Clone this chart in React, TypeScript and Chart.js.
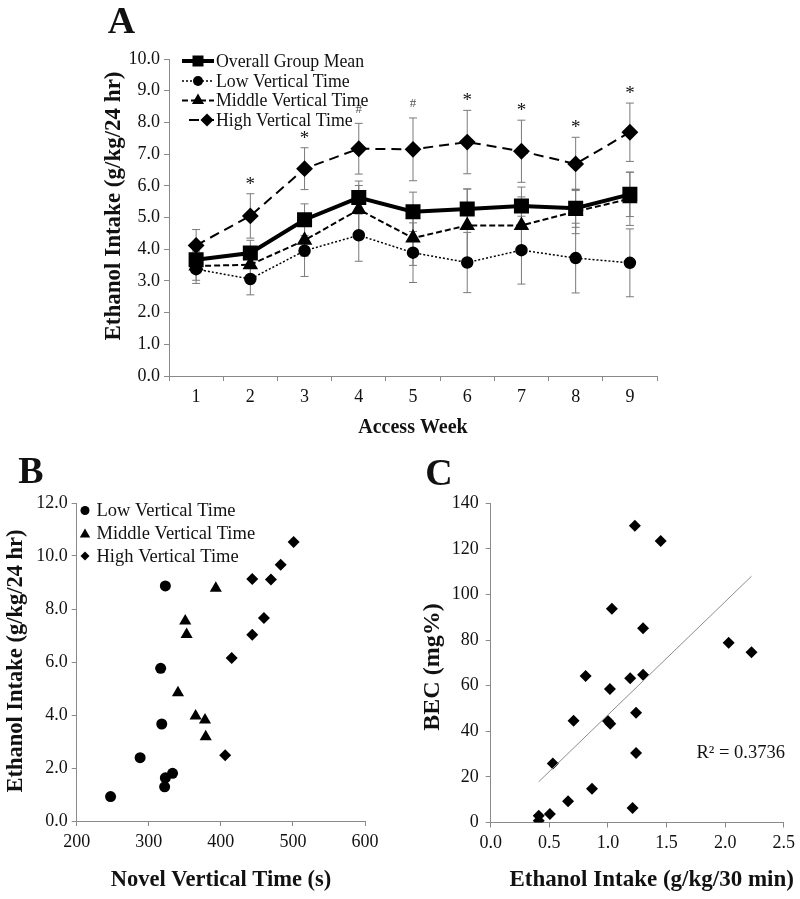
import React, { useEffect, useRef } from 'react';
import { Chart, registerables } from 'chart.js';

Chart.register(...registerables);

const SERIF = '"Liberation Serif", "Times New Roman", serif';
const AXIS_GRAY = '#8a8a8a';
const TEXT = '#111';

// ---------- Panel A data ----------
const weeks = ['1', '2', '3', '4', '5', '6', '7', '8', '9'];
const overallMean = [3.67, 3.88, 4.93, 5.63, 5.18, 5.27, 5.36, 5.29, 5.73];
const overallErr = [0.3, 0.4, 0.5, 0.52, 0.62, 0.63, 0.6, 0.6, 0.7];
const lowMean = [3.37, 3.06, 3.95, 4.44, 3.89, 3.58, 3.97, 3.72, 3.57];
const lowErr = [0.45, 0.5, 0.81, 0.82, 0.94, 0.95, 1.07, 1.1, 1.07];
const midMean = [3.47, 3.51, 4.28, 5.25, 4.35, 4.75, 4.75, 5.19, 5.59];
const midErr = [0.45, 0.45, 0.5, 0.76, 0.86, 1.15, 0.9, 0.7, 0.84];
const highMean = [4.12, 5.05, 6.54, 7.17, 7.15, 7.38, 7.09, 6.69, 7.69];
const highErr = [0.5, 0.7, 0.66, 0.8, 0.99, 1.0, 0.98, 0.84, 0.92];
const sigMarks = ['', '*', '*', '#', '#', '*', '*', '*', '*'];
const seriesNamesA = ['Overall Group Mean', 'Low Vertical Time', 'Middle Vertical Time', 'High Vertical Time'];

// ---------- Panel B data ----------
const bLowX = [247, 288, 322, 323, 333, 318, 316.5, 323];
const bLowY = [0.92, 2.39, 1.29, 1.63, 1.8, 3.66, 5.76, 8.87];
const bMidX = [340.5, 365, 378, 379, 350.6, 352.5, 393];
const bMidY = [4.84, 3.96, 3.81, 3.18, 7.55, 7.04, 8.78];
const bHighX = [406, 415, 443.6, 459.8, 443.6, 469.5, 483, 501];
const bHighY = [2.48, 6.15, 7.03, 7.66, 9.13, 9.11, 9.67, 10.53];
const seriesNamesB = ['Low Vertical Time', 'Middle Vertical Time', 'High Vertical Time'];

// ---------- Panel C data ----------
const cX = [0.41, 0.41, 0.505, 0.53, 0.66, 0.864, 0.707, 0.81, 1.0, 1.02, 1.017, 1.19, 1.3, 1.24, 1.24, 1.21, 1.034, 1.3, 1.23, 1.45, 2.03, 2.225];
const cY = [3.0, 0.8, 3.7, 25.9, 9.3, 14.8, 44.6, 64.3, 44.5, 43.3, 58.5, 63.3, 64.8, 48.1, 30.5, 6.4, 93.7, 85.2, 130.2, 123.5, 78.8, 74.7];
const trendX = [0.41, 2.225];
const trendY = [17.9, 108.0];
const rSquaredLabel = 'R² = 0.3736';

function drawMarker(ctx: CanvasRenderingContext2D, style: string, x: number, y: number, r: number) {
  ctx.save();
  ctx.fillStyle = '#000';
  ctx.beginPath();
  if (style === 'circle') {
    ctx.arc(x, y, r, 0, Math.PI * 2);
  } else if (style === 'rect') {
    ctx.rect(x - r, y - r, 2 * r, 2 * r);
  } else if (style === 'triangle') {
    ctx.moveTo(x, y - r);
    ctx.lineTo(x + r * 0.866, y + r * 0.5);
    ctx.lineTo(x - r * 0.866, y + r * 0.5);
    ctx.closePath();
  } else {
    ctx.moveTo(x, y - r);
    ctx.lineTo(x + r, y);
    ctx.lineTo(x, y + r);
    ctx.lineTo(x - r, y);
    ctx.closePath();
  }
  ctx.fill();
  ctx.restore();
}

function drawText(ctx: CanvasRenderingContext2D, text: string, x: number, y: number, font: string, opts: any = {}) {
  ctx.save();
  ctx.font = font;
  ctx.fillStyle = opts.color || TEXT;
  ctx.textAlign = opts.align || 'center';
  ctx.textBaseline = opts.baseline || 'middle';
  ctx.translate(x, y);
  if (opts.rotate) ctx.rotate(opts.rotate);
  ctx.fillText(text, 0, 0);
  ctx.restore();
}

function axisCommon(extra: any) {
  return {
    grid: { drawOnChartArea: false, drawTicks: true, tickLength: 5, color: AXIS_GRAY, lineWidth: 1 },
    border: { color: AXIS_GRAY, width: 1 },
    ...extra,
  };
}

function makeChartA(canvas: HTMLCanvasElement) {
  const errs = [overallErr, lowErr, midErr, highErr];
  const plugin = {
    id: 'panelA',
    beforeDatasetsDraw(chart: any) {
      const ctx = chart.ctx;
      const xs = chart.scales.x;
      const ys = chart.scales.y;
      ctx.save();
      ctx.strokeStyle = '#7a7a7a';
      ctx.lineWidth = 1;
      chart.data.datasets.forEach((ds: any, di: number) => {
        ds.data.forEach((v: number, i: number) => {
          const e = errs[di][i];
          const x = xs.getPixelForValue(i);
          const y1 = ys.getPixelForValue(v - e);
          const y2 = ys.getPixelForValue(v + e);
          ctx.beginPath();
          ctx.moveTo(x, y1);
          ctx.lineTo(x, y2);
          ctx.moveTo(x - 4, y1);
          ctx.lineTo(x + 4, y1);
          ctx.moveTo(x - 4, y2);
          ctx.lineTo(x + 4, y2);
          ctx.stroke();
        });
      });
      ctx.restore();
    },
    afterDraw(chart: any) {
      const ctx = chart.ctx;
      const xs = chart.scales.x;
      const ys = chart.scales.y;
      // significance markers
      sigMarks.forEach((m, i) => {
        if (!m) return;
        const x = xs.getPixelForValue(i);
        const y = ys.getPixelForValue(highMean[i] + highErr[i]);
        if (m === '*') drawText(ctx, m, x, y - 9, `19px ${SERIF}`, { baseline: 'middle' });
        else drawText(ctx, m, x, y - 14, `13px ${SERIF}`, { color: '#555' });
      });
      // legend
      const styles = [
        { lw: 4, dash: [], marker: 'rect', r: 5.5 },
        { lw: 1.5, dash: [2, 2], marker: 'circle', r: 5 },
        { lw: 2, dash: [6, 3], marker: 'triangle', r: 7 },
        { lw: 2, dash: [10, 6], marker: 'diamond', r: 6.5 },
      ];
      const rows = [61, 81, 100.5, 120];
      styles.forEach((s, i) => {
        const y = rows[i];
        ctx.save();
        ctx.strokeStyle = '#000';
        ctx.lineWidth = s.lw;
        ctx.setLineDash(s.dash);
        ctx.beginPath();
        ctx.moveTo(i === 3 ? 189 : 182, y);
        ctx.lineTo(214, y);
        ctx.stroke();
        ctx.restore();
        drawMarker(ctx, s.marker, i === 3 ? 207 : 198, y, s.r);
        drawText(ctx, seriesNamesA[i], 216, y + 1, `17.8px ${SERIF}`, { align: 'left' });
      });
      // panel letter and axis titles
      drawText(ctx, 'A', 121.5, 33, `bold 38px ${SERIF}`, { baseline: 'alphabetic' });
      drawText(ctx, 'Ethanol Intake (g/kg/24 hr)', 114, 206, `bold 23px ${SERIF}`, { rotate: -Math.PI / 2 });
      drawText(ctx, 'Access Week', 413, 428, `bold 20px ${SERIF}`);
    },
  };
  return new Chart(canvas, {
    type: 'line',
    data: {
      labels: weeks,
      datasets: [
        { label: seriesNamesA[0], data: overallMean, borderColor: '#000', backgroundColor: '#000', borderWidth: 4, pointStyle: 'rect', pointRadius: 7.8, tension: 0 },
        { label: seriesNamesA[1], data: lowMean, borderColor: '#000', backgroundColor: '#000', borderWidth: 1.5, borderDash: [2, 2], pointStyle: 'circle', pointRadius: 5.5, tension: 0 },
        { label: seriesNamesA[2], data: midMean, borderColor: '#000', backgroundColor: '#000', borderWidth: 2, borderDash: [6, 3], pointStyle: 'triangle', pointRadius: 7, tension: 0 },
        { label: seriesNamesA[3], data: highMean, borderColor: '#000', backgroundColor: '#000', borderWidth: 2, borderDash: [10, 6], pointStyle: 'rectRot', pointRadius: 7, tension: 0 },
      ],
    },
    options: {
      responsive: false,
      animation: false,
      layout: { padding: { left: 0, right: 143, top: 59, bottom: 0 } },
      plugins: { legend: { display: false }, tooltip: { enabled: false } },
      elements: { point: { borderWidth: 0, hoverRadius: 0 } },
      scales: {
        x: axisCommon({
          type: 'category',
          offset: true,
          grid: { offset: true, drawOnChartArea: false, drawTicks: true, tickLength: 5, color: AXIS_GRAY },
          ticks: { font: { family: SERIF, size: 18 }, color: TEXT, padding: 5 },
          afterFit: (s: any) => { s.height = 74; },
        }),
        y: axisCommon({
          min: 0,
          max: 10,
          ticks: { stepSize: 1, font: { family: SERIF, size: 18 }, color: TEXT, padding: 4, callback: (v: any) => Number(v).toFixed(1) },
          afterFit: (s: any) => { s.width = 169; },
        }),
      },
    },
    plugins: [plugin],
  } as any);
}

function makeChartB(canvas: HTMLCanvasElement) {
  const plugin = {
    id: 'panelB',
    afterDraw(chart: any) {
      const ctx = chart.ctx;
      const markers = [['circle', 4.5], ['triangle', 6], ['diamond', 4.5]];
      const rows = [60.5, 83.5, 106];
      markers.forEach((m: any, i) => {
        drawMarker(ctx, m[0], 85, rows[i] + (m[0] === 'triangle' ? 1 : 0), m[1]);
        drawText(ctx, seriesNamesB[i], 96.5, rows[i] + 1, `18.5px ${SERIF}`, { align: 'left' });
      });
      drawText(ctx, 'B', 31, 33, `bold 38px ${SERIF}`, { baseline: 'alphabetic' });
      drawText(ctx, 'Ethanol Intake (g/kg/24 hr)', 16, 211, `bold 22.5px ${SERIF}`, { rotate: -Math.PI / 2 });
      drawText(ctx, 'Novel Vertical Time (s)', 221, 430, `bold 22.5px ${SERIF}`);
    },
  };
  const pts = (xs: number[], ys: number[]) => xs.map((x, i) => ({ x, y: ys[i] }));
  return new Chart(canvas, {
    type: 'scatter',
    data: {
      datasets: [
        { label: seriesNamesB[0], data: pts(bLowX, bLowY), pointStyle: 'circle', pointRadius: 5.5, backgroundColor: '#000', borderWidth: 0 },
        { label: seriesNamesB[1], data: pts(bMidX, bMidY), pointStyle: 'triangle', pointRadius: 7, backgroundColor: '#000', borderWidth: 0 },
        { label: seriesNamesB[2], data: pts(bHighX, bHighY), pointStyle: 'rectRot', pointRadius: 6, backgroundColor: '#000', borderWidth: 0 },
      ],
    },
    options: {
      responsive: false,
      animation: false,
      layout: { padding: { left: 0, right: 35, top: 53, bottom: 0 } },
      plugins: { legend: { display: false }, tooltip: { enabled: false } },
      scales: {
        x: axisCommon({
          type: 'linear',
          min: 200,
          max: 600,
          ticks: { stepSize: 100, font: { family: SERIF, size: 18 }, color: TEXT, padding: 5 },
          afterFit: (s: any) => { s.height = 78; },
        }),
        y: axisCommon({
          min: 0,
          max: 12,
          ticks: { stepSize: 2, font: { family: SERIF, size: 18 }, color: TEXT, padding: 4, callback: (v: any) => Number(v).toFixed(1) },
          afterFit: (s: any) => { s.width = 76.7; },
        }),
      },
    },
    plugins: [plugin],
  } as any);
}

function makeChartC(canvas: HTMLCanvasElement) {
  const plugin = {
    id: 'panelC',
    afterDraw(chart: any) {
      const ctx = chart.ctx;
      drawText(ctx, rSquaredLabel, 296.5, 303, `18.5px ${SERIF}`, { align: 'left' });
      drawText(ctx, 'C', 39, 35, `bold 38px ${SERIF}`, { baseline: 'alphabetic' });
      drawText(ctx, 'BEC (mg%)', 33, 217, `bold 24px ${SERIF}`, { rotate: -Math.PI / 2 });
      drawText(ctx, 'Ethanol Intake (g/kg/30 min)', 251.7, 430, `bold 23px ${SERIF}`);
    },
  };
  return new Chart(canvas, {
    type: 'scatter',
    data: {
      datasets: [
        { label: 'Trend', type: 'line', data: trendX.map((x, i) => ({ x, y: trendY[i] })), borderColor: '#8c8c8c', borderWidth: 1, pointRadius: 0, showLine: true, fill: false },
        { label: 'BEC', data: cX.map((x, i) => ({ x, y: cY[i] })), pointStyle: 'rectRot', pointRadius: 6, backgroundColor: '#000', borderWidth: 0 },
      ],
    },
    options: {
      responsive: false,
      animation: false,
      layout: { padding: { left: 0, right: 16, top: 53.3, bottom: 0 } },
      plugins: { legend: { display: false }, tooltip: { enabled: false } },
      scales: {
        x: axisCommon({
          type: 'linear',
          min: 0,
          max: 2.5,
          ticks: { stepSize: 0.5, font: { family: SERIF, size: 18 }, color: TEXT, padding: 5, callback: (v: any) => Number(v).toFixed(1) },
          afterFit: (s: any) => { s.height = 76.5; },
        }),
        y: axisCommon({
          min: 0,
          max: 140,
          ticks: { stepSize: 20, font: { family: SERIF, size: 18 }, color: TEXT, padding: 7 },
          afterFit: (s: any) => { s.width = 90.7; },
        }),
      },
    },
    plugins: [plugin],
  } as any);
}

export default function App() {
  const refA = useRef<HTMLCanvasElement | null>(null);
  const refB = useRef<HTMLCanvasElement | null>(null);
  const refC = useRef<HTMLCanvasElement | null>(null);

  useEffect(() => {
    const charts: Chart[] = [];
    if (refA.current) charts.push(makeChartA(refA.current));
    if (refB.current) charts.push(makeChartB(refB.current));
    if (refC.current) charts.push(makeChartC(refC.current));
    return () => charts.forEach((c) => c.destroy());
  }, []);

  const abs = (left: number, top: number): React.CSSProperties => ({ position: 'absolute', left, top, display: 'block' });

  return (
    <div style={{ position: 'fixed', left: 0, top: 0, width: 800, height: 899, background: '#fff', overflow: 'hidden' }}>
      <canvas ref={refA} width={800} height={450} style={{ ...abs(0, 0), width: 800, height: 450 }} />
      <canvas ref={refB} width={400} height={449} style={{ ...abs(0, 450), width: 400, height: 449 }} />
      <canvas ref={refC} width={400} height={449} style={{ ...abs(400, 450), width: 400, height: 449 }} />
    </div>
  );
}
